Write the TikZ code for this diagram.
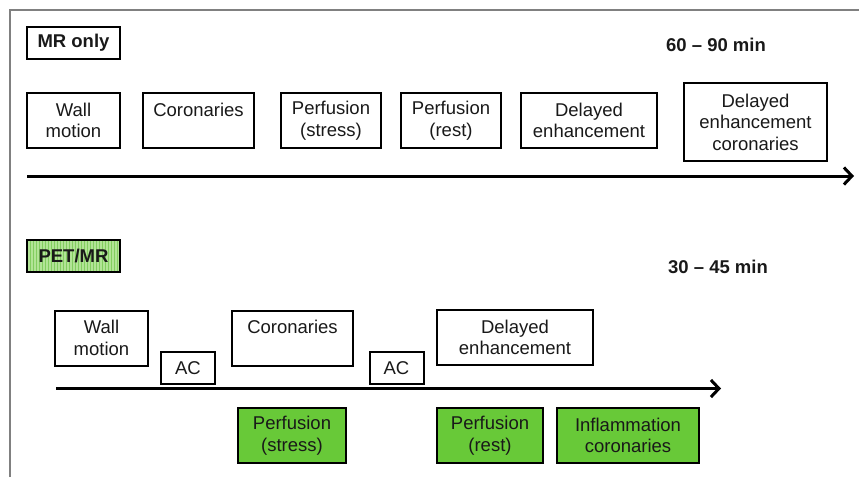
\documentclass[tikz,border=0pt]{standalone}
\usepackage{fontspec}
\setmainfont{Liberation Sans}
\usetikzlibrary{arrows.meta,patterns}
\definecolor{pgreen}{RGB}{104,201,56}
\definecolor{plight}{RGB}{178,228,150}
\definecolor{pstripe}{RGB}{130,205,95}
\definecolor{framegray}{RGB}{128,128,128}
\tikzset{
  box/.style={draw=black, line width=2pt, fill=white, inner sep=0pt, align=center,
    font=\fontsize{18.5}{21.5}\selectfont, text=black!90},
  gbox/.style={box, fill=pgreen},
  tag/.style={box, font=\bfseries\fontsize{18.5}{21.5}\selectfont},
  timelbl/.style={inner sep=0pt, font=\bfseries\fontsize{18.5}{21.5}\selectfont, text=black!90},
  timeline/.style={line width=3pt, -{Straight Barb[length=8pt,width=17pt,line width=3pt]}}
}
\begin{document}
\begin{tikzpicture}[x=1pt,y=-1pt]
\useasboundingbox (0,0) rectangle (859,477);
% frame
\draw[framegray, line width=1.5pt] (10,477) -- (10,10) -- (859,10);

% ---- MR only ----
\node[tag, minimum width=93pt, minimum height=32pt] (mronly) at (73.5,43) {MR only};
\node[timelbl] (t1) at (716,45) {60 – 90 min};

\node[box, minimum width=93pt, minimum height=55pt] (wm1) at (73.5,120.5) {Wall\\motion};
\node[box, minimum width=111pt, minimum height=55pt] (cor1) at (198.5,120.5) {Coronaries\\\mbox{}};
\node[box, minimum width=100pt, minimum height=55pt] (ps1) at (331,120.5) {Perfusion\\(stress)};
\node[box, minimum width=100pt, minimum height=55pt] (pr1) at (451,120.5) {Perfusion\\(rest)};
\node[box, minimum width=136pt, minimum height=55pt] (de1) at (589,120.5) {Delayed\\enhancement};
\node[box, minimum width=143pt, minimum height=78pt] (dec1) at (755.5,122) {Delayed\\enhancement\\coronaries};

\coordinate (a1s) at (27,176);
\coordinate (a1e) at (854,176);
\draw[timeline] (a1s) -- (a1e);

% ---- PET/MR ----
\node[tag, minimum width=93pt, minimum height=32pt, preaction={fill=plight},
      pattern=vertical lines, pattern color=pstripe] (petmr) at (73.5,256) {};
\node[timelbl] at (petmr) {PET/MR};
\node[timelbl] (t2) at (718,267) {30 – 45 min};

\node[box, minimum width=93pt, minimum height=55pt] (wm2) at (101.5,338) {Wall\\motion};
\node[box, minimum width=54pt, minimum height=32pt] (ac1) at (188,368) {AC};
\node[box, minimum width=121pt, minimum height=55pt] (cor2) at (292.5,338) {Coronaries\\\mbox{}};
\node[box, minimum width=54pt, minimum height=32pt] (ac2) at (396.5,368) {AC};
\node[box, minimum width=156pt, minimum height=55pt] (de2) at (515,337.5) {Delayed\\enhancement};

\coordinate (a2s) at (56,388.5);
\coordinate (a2e) at (721,388.5);
\draw[timeline] (a2s) -- (a2e);

\node[gbox, minimum width=108pt, minimum height=55pt] (ps2) at (292,435.5) {Perfusion\\(stress)};
\node[gbox, minimum width=106pt, minimum height=55pt] (pr2) at (490,435.5) {Perfusion\\(rest)};
\node[gbox, minimum width=142pt, minimum height=55pt] (inf2) at (628,435.5) {Inflammation\\coronaries};
\end{tikzpicture}
\end{document}
